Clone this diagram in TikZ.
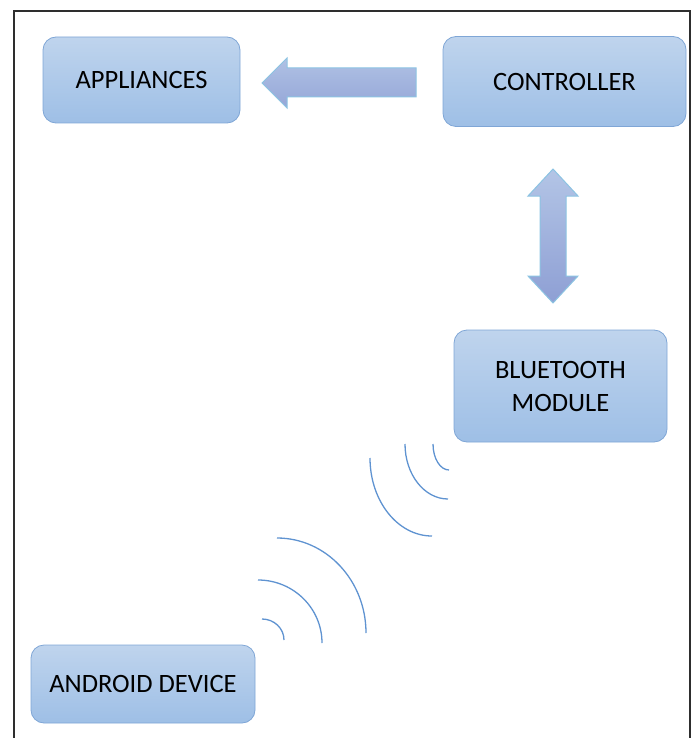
\documentclass[tikz,border=0pt]{standalone}
\usepackage{fontspec}
\setmainfont{Carlito}
\begin{document}
\begin{tikzpicture}[x=1pt,y=-1pt,
  box/.style={draw=boxedge, line width=0.8pt, rounded corners=13pt, top color=boxtop, bottom color=boxbot, inner sep=0pt, font=\fontsize{26.5}{33}\selectfont, align=center, text=black},
  blockarrow/.style={draw=arredge, line width=1pt, top color=arrtop, bottom color=arrbot, line join=miter},
  wave/.style={draw=wavecol, line width=1.3pt}
]
\definecolor{boxedge}{HTML}{7FA6D6}
\definecolor{boxtop}{HTML}{BFD4ED}
\definecolor{boxbot}{HTML}{9EBFE6}
\definecolor{arredge}{HTML}{8CC3E2}
\definecolor{arrtop}{HTML}{B3C5E6}
\definecolor{arrbot}{HTML}{8E9FD4}
\definecolor{wavecol}{HTML}{5F93D1}
\definecolor{framecol}{HTML}{2E2E2E}
\useasboundingbox (0,0) rectangle (697,738);
% frame
\draw[framecol, line width=2.6pt] (14,740) -- (14,11) -- (690,11) -- (690,740);
% nodes
\node[box, minimum width=197pt, minimum height=86pt] (app) at (141.5,80) {APPLIANCES};
\node[box, minimum width=243pt, minimum height=90pt] (ctrl) at (564.5,81.5) {CONTROLLER};
\node[box, minimum width=213pt, minimum height=112pt] (bt) at (560.5,386) {BLUETOOTH\\MODULE};
\node[box, minimum width=224pt, minimum height=78pt] (andr) at (143,684) {ANDROID DEVICE};
% left block arrow (controller -> appliances)
\path[blockarrow, top color=arrtop!90!arrbot, bottom color=arrbot!80!arrtop]
  (416,68) -- (287,68) -- (287,58) -- (262,83) -- (287,108) -- (287,97) -- (416,97) -- cycle;
% vertical double arrow (controller <-> bluetooth)
\path[blockarrow]
  (553,169) -- (578,196) -- (566,196) -- (566,276) -- (578,276) -- (553,303)
  -- (528,276) -- (540,276) -- (540,196) -- (528,196) -- cycle;
% waves near bluetooth module
\draw[wave] (433,444) arc[start angle=180, end angle=90, x radius=16, y radius=26];
\draw[wave] (405,444) arc[start angle=180, end angle=90, x radius=43, y radius=55];
\draw[wave] (370,458) arc[start angle=180, end angle=90, x radius=62, y radius=78];
% waves near android device
\draw[wave] (262,619) arc[start angle=-90, end angle=0, x radius=22, y radius=21];
\draw[wave] (258,580) arc[start angle=-90, end angle=0, x radius=64, y radius=63];
\draw[wave] (277,538) arc[start angle=-90, end angle=0, x radius=89, y radius=95];
\end{tikzpicture}
\end{document}
